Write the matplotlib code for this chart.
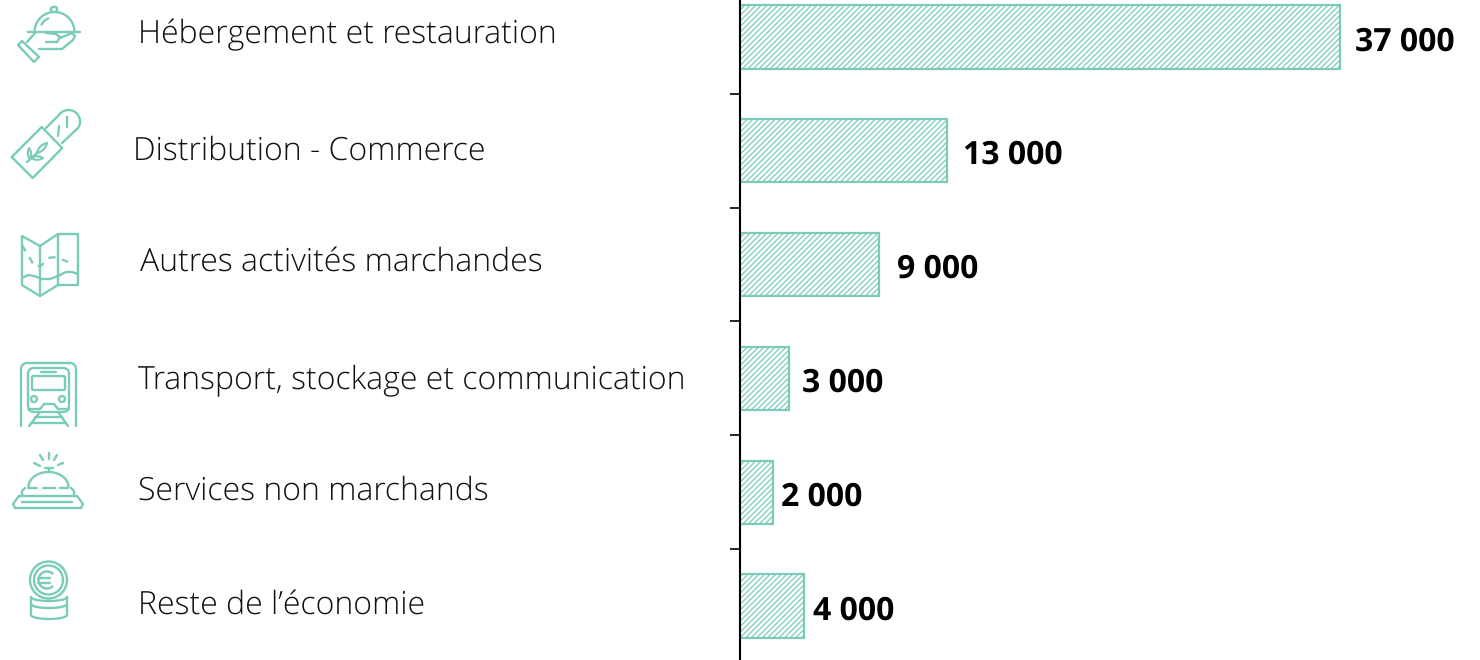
import numpy as np
import matplotlib.pyplot as plt
from matplotlib.patches import Circle, FancyBboxPatch, Polygon

plt.rcParams['font.family'] = ['Open Sans', 'DejaVu Sans']
plt.rcParams['text.hinting'] = 'no_hinting'
plt.rcParams['text.hinting_factor'] = 1

# Données
secteurs = ['Hébergement et restauration', 'Distribution - Commerce', 'Autres activités marchandes',
            'Transport, stockage et communication', 'Services non marchands', 'Reste de l\u2019économie']
longueurs = [37000, 12770, 8570, 3020, 2040, 3950]
etiquettes = ['37 000', '13 000', '9 000', '3 000', '2 000', '4 000']

VERT = '#7accb9'
W, H = 1480, 660

fig = plt.figure(figsize=(14.8, 6.6), dpi=100)

# Barres
ax = fig.add_axes([740 / W, 0, 740 / W, 1])
y = np.arange(len(secteurs))
plt.rcParams['hatch.linewidth'] = 0.9
ax.barh(y, longueurs, height=0.555, facecolor='white', edgecolor=VERT, linewidth=1.6, hatch='//////')
ax.set_xlim(0, 740 / (600 / 37000))
ax.set_ylim((660 - 37) / 113.8, -37 / 113.8)
for s in ['top', 'right', 'bottom']:
    ax.spines[s].set_visible(False)
ax.spines['left'].set_linewidth(1.5)
ax.set_xticks([])
ax.set_yticks(y[:-1] + 0.5)
ax.set_yticklabels([])
ax.tick_params(axis='y', length=7.2, width=1.2, color='black')

# Valeurs au bout des barres
decalage = [15, 16, 18, 13, 8, 9]
for i, txt in enumerate(etiquettes):
    ax.annotate(txt, (longueurs[i], i), xytext=(decalage[i] * 0.72, -3.6), textcoords='offset points',
                va='center', ha='left', fontsize=22.9, fontweight='bold', color='black')

# Calque en pixels pour les libellés et les pictogrammes
pix = fig.add_axes([0, 0, 1, 1])
pix.set_xlim(0, W)
pix.set_ylim(H, 0)
pix.axis('off')
pix.patch.set_alpha(0)

lib_x = [138, 133, 140, 138, 138, 138]
lib_y = [35, 151, 262, 381, 491, 605]
for i, txt in enumerate(secteurs):
    pix.text(lib_x[i], lib_y[i], txt, fontsize=23, fontweight='light', color='#111111', va='center', ha='left')

LW = 1.7


def trait(*pts, **kw):
    pts = np.array(pts, dtype=float)
    pix.plot(pts[:, 0], pts[:, 1], color=VERT, lw=kw.get('lw', LW), ls=kw.get('ls', '-'),
             solid_capstyle='round', solid_joinstyle='round')


def arc(cx, cy, rx, ry, a0, a1, **kw):
    t = np.radians(np.linspace(a0, a1, 50))
    pix.plot(cx + rx * np.cos(t), cy - ry * np.sin(t), color=VERT, lw=kw.get('lw', LW),
             ls=kw.get('ls', '-'), solid_capstyle='round')


def rond(cx, cy, r):
    pix.add_patch(Circle((cx, cy), r, fill=False, edgecolor=VERT, lw=LW))


def boite(x, y, w, h, r=3):
    pix.add_patch(FancyBboxPatch((x + r, y + r), w - 2 * r, h - 2 * r, boxstyle=f'round,pad={r},rounding_size={r}',
                                 fill=False, edgecolor=VERT, lw=LW))


def poly(*pts):
    pix.add_patch(Polygon(pts, closed=True, fill=False, edgecolor=VERT, lw=LW, joinstyle='round'))


def feuille(x0, y0, x1, y1, e=0.3):
    # feuille en amande entre deux points
    t = np.linspace(0, 1, 30)
    nx, ny = -(y1 - y0) * e, (x1 - x0) * e
    b = 2 * t * (1 - t)
    xs = np.r_[x0 + (x1 - x0) * t + nx * b, (x0 + (x1 - x0) * t - nx * b)[::-1]]
    ys = np.r_[y0 + (y1 - y0) * t + ny * b, (y0 + (y1 - y0) * t - ny * b)[::-1]]
    pix.plot(xs, ys, color=VERT, lw=LW * 0.9)


# cloche et main
arc(54.5, 32, 20, 20, 0, 180)
boite(51, 7, 6, 5, 2)
trait((28, 32), (80, 32))
arc(54.5, 32, 15, 15, 115, 150)
poly((18, 45), (22, 41), (39, 57), (34, 62))
trait((35, 33), (27, 42))
trait((39, 49), (62, 49), (73, 40), (75, 36), (72, 33), (60, 38))
trait((46, 42), (57, 42), (60, 37), (56, 34), (46, 33))

# baguette
poly((41.7, 127), (62.3, 148), (32.7, 178), (11.7, 157))
trait((46, 128), (60, 114))
arc(68.5, 121.5, 11.5, 11.5, -40, 135)
trait((77, 129), (62, 143))
trait((58, 136), (59, 126))
trait((67, 127), (67, 117))
trait((27, 162), (37, 153))
feuille(37, 153, 47, 143)
feuille(30, 159, 29, 148)
feuille(31, 158, 43, 158)

# carte
poly((22, 236), (40, 246), (58, 234), (78, 234), (78, 285), (58, 285), (40, 296), (22, 285))
trait((40, 246), (40, 296))
trait((58, 234), (58, 285))
trait((22, 278), (28, 275), (34, 276), (42, 279), (50, 279), (58, 276), (66, 272), (72, 272), (78, 274))
trait((22, 245), (35, 267), (42, 265), (48, 258), (56, 257), (68, 262), ls=(0, (3, 3)))

# train
trait((21, 426), (21, 369))
arc(27, 369, 6, 6, 90, 180)
trait((27, 363), (70, 363))
arc(70, 369, 6, 6, 0, 90)
trait((76, 369), (76, 426))
boite(28, 368, 41, 44, 6)
boite(32, 376, 33, 14, 1.5)
trait((41, 372), (56, 372))
rond(34, 399, 3)
rond(62, 399, 3)
trait((29, 409), (40, 409), (44, 404), (54, 404), (58, 409), (69, 409))
trait((29, 426), (40, 412))
trait((68, 426), (58, 412))
trait((35, 417), (62, 417))
trait((31, 423), (66, 423))

# sonnette
trait((49, 453), (49, 459))
trait((40, 455), (43, 460))
trait((57, 455), (54, 460))
trait((34, 463), (40, 466))
trait((63, 463), (58, 465))
trait((45, 468), (53, 468))
trait((49, 468), (49, 472))
arc(48.5, 487, 20, 15, 0, 180)
trait((28, 488), (37, 488))
trait((43, 488), (55, 488))
trait((60, 488), (68, 488))
trait((22, 496), (22, 491), (25, 488))
trait((74, 496), (74, 491), (71, 488))
trait((19, 496), (77, 496), (83, 504), (81, 508), (15, 508), (13, 504), (19, 496))
trait((22, 502), (72, 502))

# pièces
rond(48.5, 580, 18.5)
rond(48.5, 580, 14.5)
arc(47, 580, 8.5, 8.5, 50, 310)
trait((38, 578), (50, 578))
trait((38, 583), (50, 583))
arc(49, 597, 18, 4, 180, 360)
arc(49, 604, 18, 4, 180, 360)
arc(49, 615, 18, 4, 180, 360)
trait((31, 597), (31, 615))
trait((67, 597), (67, 615))

plt.savefig('out.png', dpi=100)
